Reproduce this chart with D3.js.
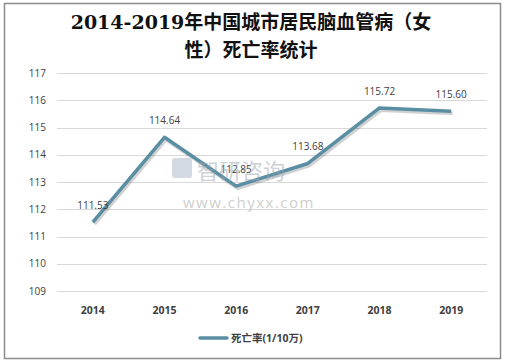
<!DOCTYPE html>
<html>
<head>
<meta charset="utf-8">
<script src="https://cdn.jsdelivr.net/npm/d3@7"></script>
<style>
  body { margin: 0; background: #fff; }
  text { font-family: "Open Sans", "Noto Sans CJK SC", sans-serif; }
</style>
</head>
<body>
<div id="chart"></div>
<script>
// data
const years = ['2014', '2015', '2016', '2017', '2018', '2019'];
const rates = [111.53, 114.64, 112.85, 113.68, 115.72, 115.6];
const yTicks = [109, 110, 111, 112, 113, 114, 115, 116, 117];
const seriesName = '死亡率(1/10万)';

const W = 506;
const H = 361;
const margin = { top: 73, right: 19, bottom: 70, left: 57 };
const width = W - margin.left - margin.right;
const height = H - margin.top - margin.bottom;
const lineColor = '#5a8fa3';

const svg = d3
  .select('#chart')
  .append('svg')
  .attr('width', W)
  .attr('height', H);

// outer frame
svg
  .append('rect')
  .attr('x', 4.5)
  .attr('y', 3.5)
  .attr('width', 496)
  .attr('height', 355)
  .attr('fill', 'none')
  .attr('stroke', '#8c8c8c')
  .attr('stroke-width', 1.5);

// title
const title = svg
  .append('text')
  .attr('text-anchor', 'middle')
  .attr('font-weight', 'bold')
  .attr('font-size', 19)
  .attr('fill', '#111')
  .style('font-family', '"DejaVu Serif", "Noto Sans CJK SC", serif');
title.append('tspan').attr('x', W / 2 - 2).attr('y', 29).text('2014-2019年中国城市居民脑血管病（女');
title.append('tspan').attr('x', W / 2 - 2).attr('y', 57).text('性）死亡率统计');

const g = svg
  .append('g')
  .attr('transform', 'translate(' + margin.left + ',' + margin.top + ')');

const x = d3.scaleBand().domain(years).range([0, width]);
const y = d3.scaleLinear().domain([109, 117]).range([height, 0]);

// gridlines
g.selectAll('.grid')
  .data(yTicks)
  .join('line')
  .attr('class', 'grid')
  .attr('x1', 0)
  .attr('x2', width)
  .attr('y1', (d) => Math.round(y(d)) + 0.5)
  .attr('y2', (d) => Math.round(y(d)) + 0.5)
  .attr('stroke', '#d9d9d9');

// y labels
g.selectAll('.ylab')
  .data(yTicks)
  .join('text')
  .attr('class', 'ylab')
  .attr('x', -11)
  .attr('y', (d) => y(d))
  .attr('dy', '0.35em')
  .attr('text-anchor', 'end')
  .attr('font-size', 10)
  .attr('fill', '#404040')
  .text((d) => d);

// x labels
g.selectAll('.xlab')
  .data(years)
  .join('text')
  .attr('class', 'xlab')
  .attr('x', (d) => x(d) + x.bandwidth() / 2)
  .attr('y', height + 23)
  .attr('text-anchor', 'middle')
  .attr('font-size', 10.5)
  .attr('font-weight', 'bold')
  .attr('fill', '#404040')
  .text((d) => d);

// watermark
const wm = svg.append('g').attr('opacity', 0.5);
wm.append('rect')
  .attr('x', 172)
  .attr('y', 158)
  .attr('width', 20)
  .attr('height', 20)
  .attr('rx', 3)
  .attr('fill', '#a9b6c8');
wm.append('text')
  .attr('x', 197)
  .attr('y', 179)
  .attr('font-size', 22)
  .attr('fill', '#9aa3b0')
  .style('font-family', '"Noto Sans CJK SC", sans-serif')
  .text('智研咨询');
wm.append('text')
  .attr('x', 183)
  .attr('y', 208)
  .attr('font-size', 15)
  .attr('letter-spacing', 1.5)
  .attr('fill', '#a0a0a0')
  .text('www.chyxx.com');

const points = years.map((d, i) => ({ year: d, value: rates[i] }));
const line = d3
  .line()
  .x((d) => x(d.year) + x.bandwidth() / 2)
  .y((d) => y(d.value));

// shadow
g.append('path')
  .datum(points)
  .attr('d', line)
  .attr('fill', 'none')
  .attr('stroke', 'rgba(0,0,0,0.18)')
  .attr('stroke-width', 4)
  .attr('transform', 'translate(1.5,2)');

g.append('path')
  .datum(points)
  .attr('d', line)
  .attr('fill', 'none')
  .attr('stroke', lineColor)
  .attr('stroke-width', 3.5)
  .attr('stroke-linejoin', 'round');

// value labels
g.selectAll('.vlab')
  .data(points)
  .join('text')
  .attr('class', 'vlab')
  .attr('x', (d) => x(d.year) + x.bandwidth() / 2)
  .attr('y', (d) => y(d.value) - 13)
  .attr('text-anchor', 'middle')
  .attr('font-size', 10)
  .attr('fill', '#404040')
  .text((d) => d.value.toFixed(2));

// legend
const leg = svg.append('g').attr('transform', 'translate(200,338)');
leg.append('line')
  .attr('x1', 0)
  .attr('x2', 27)
  .attr('stroke', lineColor)
  .attr('stroke-width', 3.5)
  .attr('stroke-linecap', 'round');
leg.append('text')
  .attr('x', 31)
  .attr('dy', '0.35em')
  .attr('font-size', 10.5)
  .attr('font-weight', 'bold')
  .attr('fill', '#404040')
  .text(seriesName);
</script>
</body>
</html>
